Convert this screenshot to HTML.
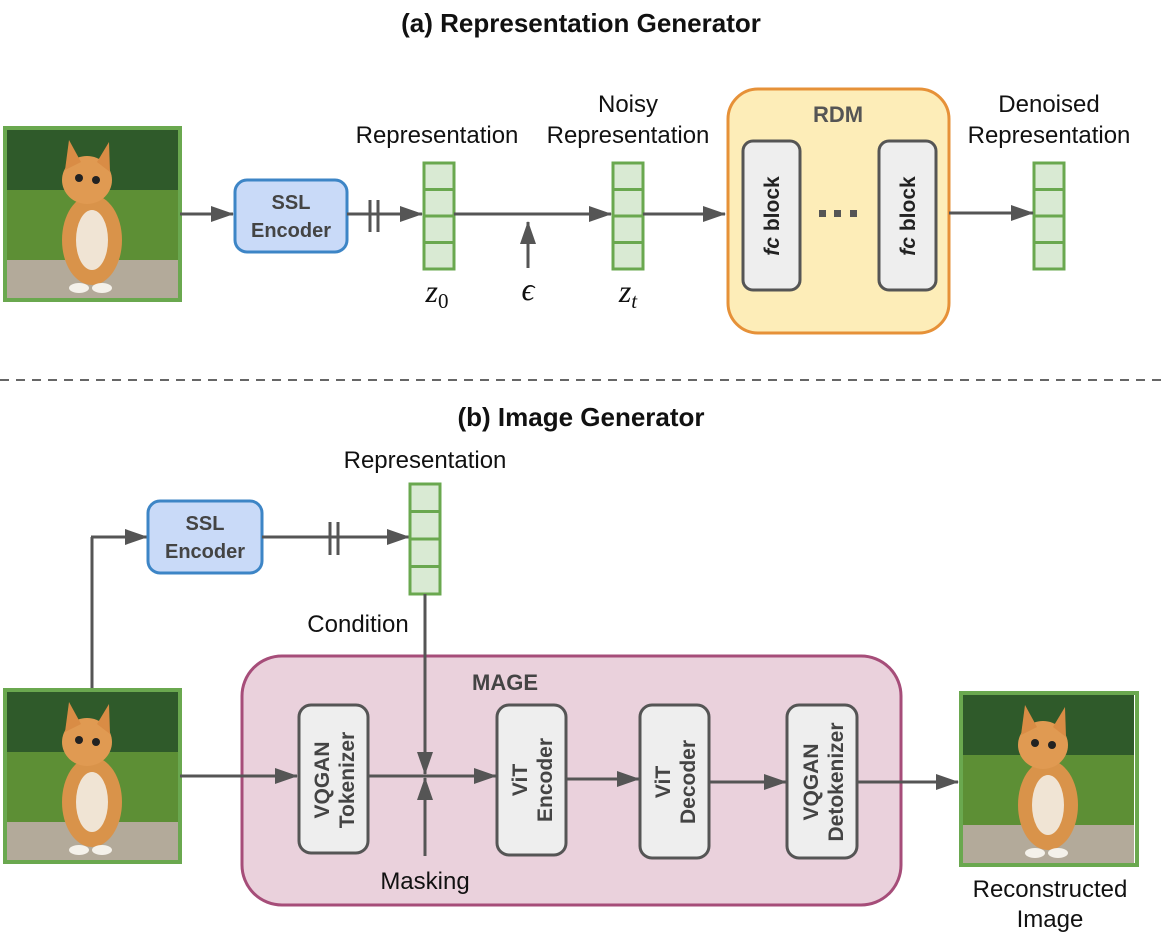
<!DOCTYPE html>
<html><head><meta charset="utf-8"><style>
html,body{margin:0;padding:0;background:#fff;}
svg{display:block;}
text{font-family:"Liberation Sans",sans-serif;}
</style></head><body>
<svg width="1163" height="936" viewBox="0 0 1163 936" xmlns="http://www.w3.org/2000/svg">
<defs>
<marker id="ah" markerWidth="24" markerHeight="18" refX="22" refY="9" orient="auto" markerUnits="userSpaceOnUse"><path d="M0,1 L23,9 L0,17 Z" fill="#555"/></marker>
<g id="cat">
  <rect x="0" y="0" width="171" height="168" fill="#3f6e2a"/>
  <rect x="0" y="0" width="171" height="60" fill="#2f5a2a"/>
  <rect x="0" y="60" width="171" height="70" fill="#5d8f35"/>
  <rect x="0" y="130" width="171" height="38" fill="#b3aa9a"/>
  <ellipse cx="85" cy="110" rx="30" ry="45" fill="#d9934a"/>
  <ellipse cx="85" cy="110" rx="16" ry="30" fill="#f0e4d4"/>
  <ellipse cx="80" cy="50" rx="25" ry="24" fill="#e09a52"/>
  <path d="M58,40 L62,10 L74,32 Z" fill="#d98c45"/>
  <path d="M90,32 L102,12 L103,42 Z" fill="#d98c45"/>
  <circle cx="72" cy="48" r="4" fill="#222"/><circle cx="89" cy="50" r="4" fill="#222"/>
  <ellipse cx="72" cy="158" rx="10" ry="5" fill="#f4f1ea"/><ellipse cx="95" cy="158" rx="10" ry="5" fill="#f4f1ea"/>
</g>
</defs>

<text x="581" y="32" text-anchor="middle" font-size="26" font-weight="bold" fill="#111">(a) Representation Generator</text>

<use href="#cat" x="7" y="130"/>
<rect x="5" y="128" width="175" height="172" fill="none" stroke="#6aa84f" stroke-width="4"/>

<line x1="180" y1="214" x2="233" y2="214" stroke="#555" stroke-width="3" marker-end="url(#ah)"/>
<rect x="235" y="180" width="112" height="72" rx="12" fill="#c9daf8" stroke="#3d85c6" stroke-width="3"/>
<text x="291" y="209" text-anchor="middle" font-size="20" font-weight="bold" fill="#444">SSL</text>
<text x="291" y="237" text-anchor="middle" font-size="20" font-weight="bold" fill="#444">Encoder</text>
<line x1="347" y1="214" x2="422" y2="214" stroke="#555" stroke-width="3" marker-end="url(#ah)"/>
<line x1="370" y1="200" x2="370" y2="232" stroke="#555" stroke-width="3"/>
<line x1="378" y1="200" x2="378" y2="232" stroke="#555" stroke-width="3"/>

<g fill="#d9ead3" stroke="#6aa84f" stroke-width="3">
<rect x="424" y="163" width="30" height="26.5"/><rect x="424" y="189.5" width="30" height="26.5"/><rect x="424" y="216" width="30" height="26.5"/><rect x="424" y="242.5" width="30" height="26.5"/>
<rect x="613" y="163" width="30" height="26.5"/><rect x="613" y="189.5" width="30" height="26.5"/><rect x="613" y="216" width="30" height="26.5"/><rect x="613" y="242.5" width="30" height="26.5"/>
<rect x="1034" y="163" width="30" height="26.5"/><rect x="1034" y="189.5" width="30" height="26.5"/><rect x="1034" y="216" width="30" height="26.5"/><rect x="1034" y="242.5" width="30" height="26.5"/>
</g>
<g font-size="24" fill="#111" text-anchor="middle">
<text x="437" y="143">Representation</text>
<text x="628" y="112">Noisy</text>
<text x="628" y="143">Representation</text>
<text x="1049" y="112">Denoised</text>
<text x="1049" y="143">Representation</text>
</g>

<line x1="454" y1="214" x2="611" y2="214" stroke="#555" stroke-width="3" marker-end="url(#ah)"/>
<line x1="528" y1="268" x2="528" y2="222" stroke="#555" stroke-width="3" marker-end="url(#ah)"/>
<text x="437" y="302" text-anchor="middle" font-size="32" font-style="italic" style="font-family:'Liberation Serif',serif" fill="#111">z<tspan font-size="21" font-style="normal" dy="6">0</tspan></text>
<text x="528" y="300" text-anchor="middle" font-size="32" font-style="italic" style="font-family:'Liberation Serif',serif" fill="#111">ϵ</text>
<text x="628" y="302" text-anchor="middle" font-size="32" font-style="italic" style="font-family:'Liberation Serif',serif" fill="#111">z<tspan font-size="21" dy="6">t</tspan></text>

<line x1="643" y1="214" x2="725" y2="214" stroke="#555" stroke-width="3" marker-end="url(#ah)"/>
<rect x="728" y="89" width="221" height="244" rx="30" fill="#fdedb8" stroke="#e69138" stroke-width="3"/>
<text x="838" y="122" text-anchor="middle" font-size="22" font-weight="bold" fill="#555">RDM</text>
<rect x="743" y="141" width="57" height="149" rx="10" fill="#eeeeee" stroke="#555" stroke-width="3"/>
<rect x="879" y="141" width="57" height="149" rx="10" fill="#eeeeee" stroke="#555" stroke-width="3"/>
<text transform="translate(779,216) rotate(-90)" text-anchor="middle" font-size="21" font-weight="bold" fill="#222"><tspan font-style="italic">fc</tspan> block</text>
<text transform="translate(915,216) rotate(-90)" text-anchor="middle" font-size="21" font-weight="bold" fill="#222"><tspan font-style="italic">fc</tspan> block</text>
<g fill="#555"><rect x="819" y="210" width="7" height="7"/><rect x="834" y="210" width="7" height="7"/><rect x="850" y="210" width="7" height="7"/></g>
<line x1="949" y1="213" x2="1033" y2="213" stroke="#555" stroke-width="3" marker-end="url(#ah)"/>

<line x1="0" y1="380" x2="1163" y2="380" stroke="#666" stroke-width="2" stroke-dasharray="9,7"/>

<text x="581" y="426" text-anchor="middle" font-size="26" font-weight="bold" fill="#111">(b) Image Generator</text>

<text x="425" y="468" text-anchor="middle" font-size="24" fill="#111">Representation</text>
<line x1="92" y1="692" x2="92" y2="537" stroke="#555" stroke-width="3"/>
<line x1="91" y1="537" x2="147" y2="537" stroke="#555" stroke-width="3" marker-end="url(#ah)"/>
<rect x="148" y="501" width="114" height="72" rx="12" fill="#c9daf8" stroke="#3d85c6" stroke-width="3"/>
<text x="205" y="530" text-anchor="middle" font-size="20" font-weight="bold" fill="#444">SSL</text>
<text x="205" y="558" text-anchor="middle" font-size="20" font-weight="bold" fill="#444">Encoder</text>
<line x1="262" y1="537" x2="409" y2="537" stroke="#555" stroke-width="3" marker-end="url(#ah)"/>
<line x1="330" y1="522" x2="330" y2="555" stroke="#555" stroke-width="3"/>
<line x1="338" y1="522" x2="338" y2="555" stroke="#555" stroke-width="3"/>
<g fill="#d9ead3" stroke="#6aa84f" stroke-width="3">
<rect x="410" y="484" width="30" height="27.5"/><rect x="410" y="511.5" width="30" height="27.5"/><rect x="410" y="539" width="30" height="27.5"/><rect x="410" y="566.5" width="30" height="27.5"/>
</g>
<text x="358" y="632" text-anchor="middle" font-size="24" fill="#111">Condition</text>

<rect x="242" y="656" width="659" height="249" rx="40" fill="#ead1dc" stroke="#a64d79" stroke-width="3"/>
<text x="505" y="690" text-anchor="middle" font-size="22" font-weight="bold" fill="#444">MAGE</text>
<line x1="425" y1="594" x2="425" y2="774" stroke="#555" stroke-width="3" marker-end="url(#ah)"/>
<line x1="425" y1="856" x2="425" y2="778" stroke="#555" stroke-width="3" marker-end="url(#ah)"/>
<text x="425" y="889" text-anchor="middle" font-size="24" fill="#111">Masking</text>

<use href="#cat" x="7" y="692"/>
<rect x="5" y="690" width="175" height="172" fill="none" stroke="#6aa84f" stroke-width="4"/>
<line x1="180" y1="776" x2="297" y2="776" stroke="#555" stroke-width="3" marker-end="url(#ah)"/>

<g fill="#eeeeee" stroke="#555" stroke-width="3">
<rect x="299" y="705" width="69" height="148" rx="12"/>
<rect x="497" y="705" width="69" height="150" rx="12"/>
<rect x="640" y="705" width="69" height="153" rx="12"/>
<rect x="787" y="705" width="70" height="153" rx="12"/>
</g>
<line x1="368" y1="776" x2="496" y2="776" stroke="#555" stroke-width="3" marker-end="url(#ah)"/>
<line x1="566" y1="779" x2="639" y2="779" stroke="#555" stroke-width="3" marker-end="url(#ah)"/>
<line x1="709" y1="782" x2="786" y2="782" stroke="#555" stroke-width="3" marker-end="url(#ah)"/>
<line x1="857" y1="782" x2="958" y2="782" stroke="#555" stroke-width="3" marker-end="url(#ah)"/>
<g font-size="21" font-weight="bold" fill="#444" text-anchor="middle">
<text transform="translate(333,780) rotate(-90)"><tspan x="0" dy="-4">VQGAN</tspan><tspan x="0" dy="25">Tokenizer</tspan></text>
<text transform="translate(531,780) rotate(-90)"><tspan x="0" dy="-4">ViT</tspan><tspan x="0" dy="25">Encoder</tspan></text>
<text transform="translate(674,782) rotate(-90)"><tspan x="0" dy="-4">ViT</tspan><tspan x="0" dy="25">Decoder</tspan></text>
<text transform="translate(822,782) rotate(-90)"><tspan x="0" dy="-4">VQGAN</tspan><tspan x="0" dy="25">Detokenizer</tspan></text>
</g>

<use href="#cat" x="963" y="695"/>
<rect x="961" y="693" width="176" height="172" fill="none" stroke="#6aa84f" stroke-width="4"/>
<text x="1050" y="897" text-anchor="middle" font-size="24" fill="#111">Reconstructed</text>
<text x="1050" y="927" text-anchor="middle" font-size="24" fill="#111">Image</text>
</svg>
</body></html>
